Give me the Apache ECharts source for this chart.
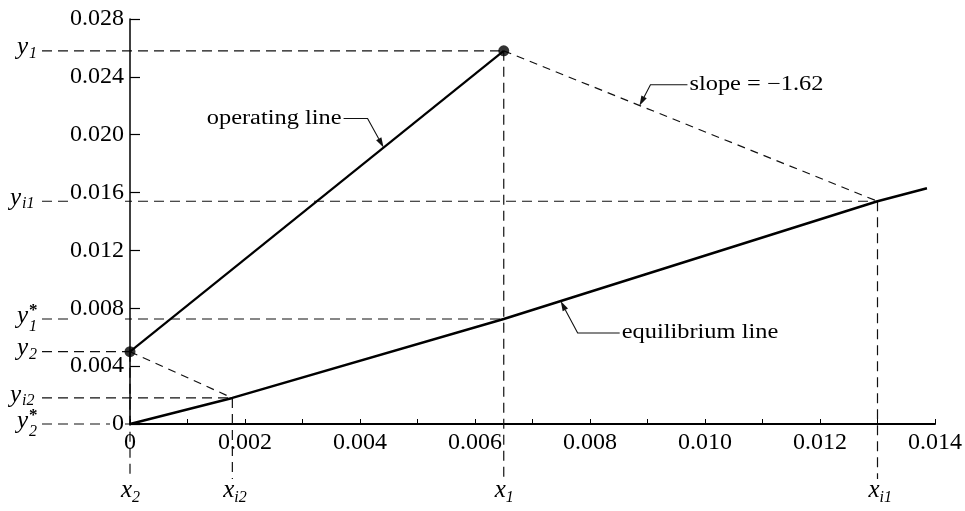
<!DOCTYPE html>
<html><head><meta charset="utf-8">
<script src="https://cdn.jsdelivr.net/npm/echarts@6/dist/echarts.min.js"></script>
<style>html,body{margin:0;padding:0;background:#fff}#c{width:965px;height:511px}</style>
</head><body><div id="c"></div>
<script>
// ---- data ----
const opX = [0, 0.0065];
const opY = [0.0050, 0.0258];
const eqX = [0, 0.00178, 0.0065, 0.0130, 0.01386];
const eqY = [0, 0.0018, 0.00726, 0.0154, 0.0163];
const tieTopX = [0.0065, 0.0130];
const tieTopY = [0.0258, 0.0154];
const tieBotX = [0, 0.00178];
const tieBotY = [0.0050, 0.0018];
const yGuideSub = ['1', 'i1', '1', '2', 'i2', '2'];
const yGuideStar = [false, false, true, false, false, true];
const yGuideY = [0.0258, 0.0154, 0.00726, 0.0050, 0.0018, 0];
const yGuideToX = [0.0065, 0.0130, 0.0065, 0, 0.00178, 0];
const xGuideSub = ['2', 'i2', '1', 'i1'];
const xGuideX = [0, 0.00178, 0.0065, 0.0130];
const xGuideFromY = [0.0050, 0.0018, 0.0258, 0.0154];
const annText = ['operating line', 'equilibrium line', 'slope = \u22121.62'];
const annX = [0.00441, 0.00749, 0.00886];
const annY = [0.01912, 0.0085, 0.0220];
const xMin = 0, xMax = 0.014, xStep = 0.002;
const yMin = 0, yMax = 0.028, yStep = 0.004;

// ---- styling ----
const SERIF = '"Liberation Serif", "Times New Roman", serif';
const INK = '#111';
const annLayout = [
  { bend: [-16, -29], end: [-40, -29], align: 'right' },
  { bend: [17, 32], end: [59, 32], align: 'left' },
  { bend: [11, -21], end: [48, -21], align: 'left' }
];

function pairs(xs, ys) { return xs.map((x, i) => [x, ys[i]]); }

function yGuide(params, api) {
  const i = params.dataIndex;
  const p = api.coord([api.value(0), api.value(1)]);
  const ax = api.coord([xMin, api.value(1)])[0];
  const x0 = ax - 88;
  const sub = yGuideSub[i];
  const star = yGuideStar[i];
  const yl = x0 - 25 - (sub.length - 1) * 7;
  const ch = [
    { type: 'line', shape: { x1: x0, y1: p[1], x2: p[0], y2: p[1] },
      style: { stroke: INK, lineWidth: 1.2, lineDash: [10, 6] } },
    { type: 'text', style: { text: 'y', x: yl, y: p[1] - 3, font: 'italic 25px ' + SERIF,
      fill: '#000', align: 'left', verticalAlign: 'middle' } },
    { type: 'text', style: { text: sub, x: yl + 12, y: p[1] + (star ? 8 : 3), font: 'italic 16px ' + SERIF,
      fill: '#000', align: 'left', verticalAlign: 'middle' } }
  ];
  if (star) {
    ch.push({ type: 'text', style: { text: '*', x: yl + 12, y: p[1] - 8, font: 'bold 17px ' + SERIF,
      fill: '#000', align: 'left', verticalAlign: 'middle' } });
  }
  return { type: 'group', children: ch };
}

function xGuide(params, api) {
  const i = params.dataIndex;
  const p = api.coord([api.value(0), api.value(1)]);
  const ay = api.coord([api.value(0), yMin])[1];
  return { type: 'group', children: [
    { type: 'line', shape: { x1: p[0], y1: p[1], x2: p[0], y2: ay + 55 },
      style: { stroke: INK, lineWidth: 1.2, lineDash: [10, 6] } },
    { type: 'text', style: { text: 'x', x: p[0] + 2, y: ay + 66, font: 'italic 25px ' + SERIF,
      fill: '#000', align: 'right', verticalAlign: 'middle' } },
    { type: 'text', style: { text: xGuideSub[i], x: p[0] + 2, y: ay + 74, font: 'italic 16px ' + SERIF,
      fill: '#000', align: 'left', verticalAlign: 'middle' } }
  ] };
}

function annot(params, api) {
  const i = params.dataIndex;
  const L = annLayout[i];
  const t = api.coord([api.value(0), api.value(1)]);
  const b = [t[0] + L.bend[0], t[1] + L.bend[1]];
  const e = [t[0] + L.end[0], t[1] + L.end[1]];
  const dx = t[0] - b[0], dy = t[1] - b[1];
  const len = Math.sqrt(dx * dx + dy * dy);
  const ux = dx / len, uy = dy / len;
  const bx = t[0] - ux * 10, by = t[1] - uy * 10;
  const px = -uy * 3, py = ux * 3;
  return { type: 'group', children: [
    { type: 'polyline', shape: { points: [e, b, [bx, by]] },
      style: { stroke: INK, lineWidth: 1.1, fill: null } },
    { type: 'polygon', shape: { points: [t, [bx + px, by + py], [bx - px, by - py]] },
      style: { fill: INK } },
    { type: 'text', x: e[0] + (L.align === 'right' ? -2 : 2), y: e[1], scaleX: 1.22,
      style: { text: annText[i], x: 0, y: 0, font: '20px ' + SERIF, fill: '#000',
        align: L.align, verticalAlign: 'middle' } }
  ] };
}

const fmt = v => (v === 0 ? '0' : v.toFixed(3));

const chart = echarts.init(document.getElementById('c'), null, { renderer: 'canvas' });
chart.setOption({
  backgroundColor: '#fff',
  animation: false,
  grid: { left: 130, right: 26, top: 19, bottom: 87, containLabel: false },
  xAxis: {
    type: 'value', min: xMin, max: xMax, interval: xStep,
    axisLine: { show: true, onZero: false, lineStyle: { color: '#000', width: 2 } },
    axisTick: { show: true, inside: true, length: 5, lineStyle: { color: '#000', width: 1 } },
    minorTick: { show: true, splitNumber: 2, length: 5, lineStyle: { color: '#000', width: 1 } },
    splitLine: { show: false }, minorSplitLine: { show: false },
    axisLabel: { color: '#000', fontFamily: SERIF, fontSize: 24, margin: 7, formatter: fmt,
      showMinLabel: true, showMaxLabel: true }
  },
  yAxis: {
    type: 'value', min: yMin, max: yMax, interval: yStep, z: 3,
    axisLine: { show: true, onZero: false, lineStyle: { color: '#000', width: 1.5 } },
    axisTick: { show: true, inside: true, length: 10, lineStyle: { color: '#000', width: 1.2 } },
    splitLine: { show: false },
    axisLabel: { color: '#000', fontFamily: SERIF, fontSize: 24, margin: 5, formatter: fmt,
      backgroundColor: '#fff', padding: [0, 1, 0, 2], showMinLabel: true, showMaxLabel: true }
  },
  series: [
    { type: 'custom', name: 'yguides', coordinateSystem: 'cartesian2d', silent: true, z: 1,
      encode: { x: 0, y: 1 }, data: pairs(yGuideToX, yGuideY), renderItem: yGuide },
    { type: 'custom', name: 'xguides', coordinateSystem: 'cartesian2d', silent: true, z: 1,
      encode: { x: 0, y: 1 }, data: pairs(xGuideX, xGuideFromY), renderItem: xGuide },
    { type: 'line', name: 'tie top', data: pairs(tieTopX, tieTopY), symbol: 'none', z: 4,
      lineStyle: { color: INK, width: 1.2, type: [8, 6] } },
    { type: 'line', name: 'tie bottom', data: pairs(tieBotX, tieBotY), symbol: 'none', z: 4,
      lineStyle: { color: INK, width: 1.2, type: [8, 6] } },
    { type: 'line', name: 'operating line', data: pairs(opX, opY), symbol: 'none', z: 5,
      lineStyle: { color: '#000', width: 2.2 } },
    { type: 'line', name: 'equilibrium line', data: pairs(eqX, eqY), symbol: 'none', z: 5,
      lineStyle: { color: '#000', width: 2.4 } },
    { type: 'scatter', name: 'ends', data: pairs(opX, opY), symbolSize: 11, clip: false, z: 6,
      itemStyle: { color: '#000' } },
    { type: 'custom', name: 'annotations', coordinateSystem: 'cartesian2d', silent: true, z: 6,
      encode: { x: 0, y: 1 }, data: pairs(annX, annY), renderItem: annot }
  ]
});
</script>
</body></html>
